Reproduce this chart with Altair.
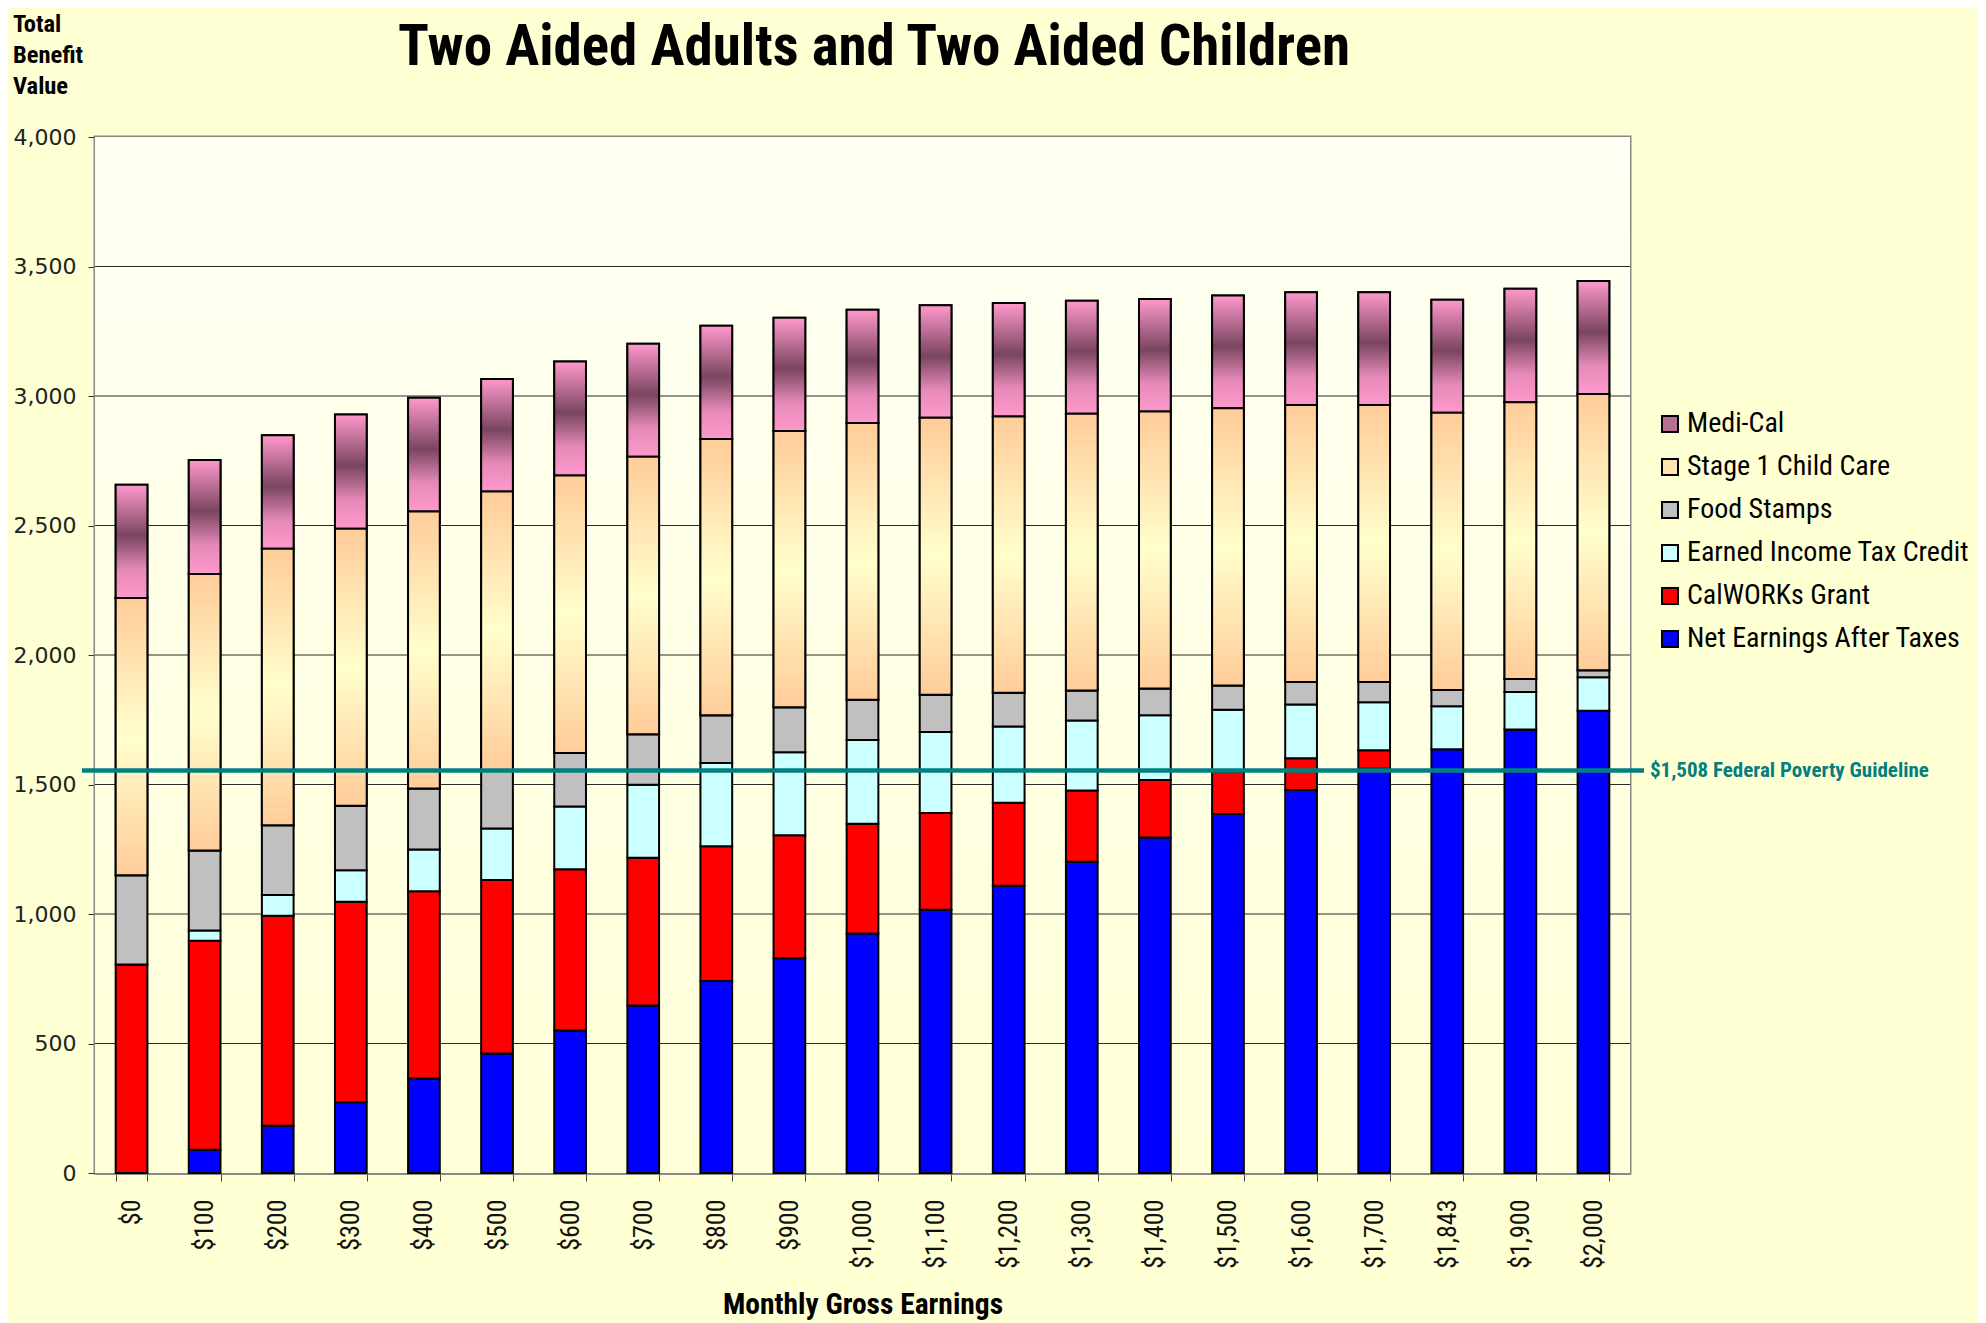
import altair as alt
import pandas as pd

# ---------------- data ----------------
earnings = ["$0", "$100", "$200", "$300", "$400", "$500", "$600", "$700", "$800", "$900",
            "$1,000", "$1,100", "$1,200", "$1,300", "$1,400", "$1,500", "$1,600", "$1,700",
            "$1,843", "$1,900", "$2,000"]
net_earnings = [0, 90, 182, 273, 365, 461, 550, 647, 741, 829, 925, 1016, 1109, 1202, 1295,
                1386, 1479, 1561, 1636, 1712, 1785]
calworks = [805, 807, 811, 774, 723, 670, 623, 570, 521, 475, 423, 374, 321, 275, 222, 164,
            122, 71, 0, 0, 0]
eitc = [0, 39, 80, 122, 161, 199, 242, 282, 321, 321, 324, 313, 294, 270, 250, 239, 208, 186,
        166, 145, 129]
food_stamps = [345, 309, 270, 249, 236, 224, 207, 195, 184, 173, 155, 144, 130, 116, 104, 93,
               87, 78, 63, 50, 27]
child_care = [1070, 1068, 1067, 1069, 1069, 1077, 1071, 1071, 1067, 1067, 1069, 1069, 1067,
              1068, 1069, 1071, 1069, 1069, 1070, 1069, 1067]
medi_cal = [437, 440, 438, 442, 439, 435, 440, 437, 437, 437, 437, 434, 438, 437, 435, 435,
            436, 436, 437, 438, 436]

series_stack = ["Net Earnings After Taxes", "CalWORKs Grant", "Earned Income Tax Credit",
                "Food Stamps", "Stage 1 Child Care", "Medi-Cal"]
series_values = [net_earnings, calworks, eitc, food_stamps, child_care, medi_cal]
legend_order = list(reversed(series_stack))
legend_colors = ["#B86E95", "#FFE3B3", "#C0C0C0", "#CCFFFF", "#FF0000", "#0000FF"]

poverty_value = 1554
poverty_label = "$1,508 Federal Poverty Guideline"
y_ticks = [0, 500, 1000, 1500, 2000, 2500, 3000, 3500, 4000]
grid_values = [500, 1000, 1500, 2000, 2500, 3000, 3500]

title_text = "Two Aided Adults and Two Aided Children"
y_title = ["Total", "Benefit", "Value"]
x_title = "Monthly Gross Earnings"

# ---------------- tables ----------------
rows = []
for order, (name, vals) in enumerate(zip(series_stack, series_values)):
    for e, v in zip(earnings, vals):
        rows.append({"earn": e, "series": name, "value": v, "order": order})
df = pd.DataFrame(rows)
pov_df = pd.DataFrame({"pv": [poverty_value], "label": [poverty_label]})
grid_df = pd.DataFrame({"g": grid_values})

W, H = 1535, 1036
NARROW = "Roboto Condensed, Liberation Sans Narrow, sans-serif"
WIDE = "DejaVu Sans, Verdana, sans-serif"

x_enc = alt.X("earn:N", sort=earnings, title=x_title,
              scale=alt.Scale(paddingInner=0.566, paddingOuter=0.283),
              axis=alt.Axis(labelAngle=-90, labelFont=NARROW, labelFontSize=26,
                            labelColor="#111111", labelPadding=18, tickBand="extent",
                            tickSize=8, tickColor="#444444", tickWidth=1,
                            domainColor="#888888", domainWidth=3,
                            titleFont=NARROW, titleFontSize=29.5, titleFontWeight="bold",
                            titleColor="#000000", titleY=131, titleBaseline="middle"))
y_scale = alt.Scale(domain=[0, 4000], nice=False)
y_axis = alt.Axis(values=y_ticks, format=",d", grid=False, labelFont=WIDE, labelFontSize=22,
                  labelColor="#222222", labelPadding=12, tickSize=7, tickColor="#333333",
                  domainColor="#888888", domainWidth=3, title=None)

# plot-area background
bg = alt.Chart(alt.Data(values=[{}])).mark_rect(
    fill=alt.LinearGradient(gradient="linear", x1=0, x2=0, y1=0, y2=1,
                            stops=[alt.GradientStop(offset=0, color="#FFFFF4"),
                                   alt.GradientStop(offset=1, color="#FFFFD8")])
).encode(x=alt.value(0), x2=alt.value(W), y=alt.value(0), y2=alt.value(H))

grid = alt.Chart(grid_df).mark_rule(color="#2a2a2a", strokeWidth=1).encode(
    y=alt.Y("g:Q", scale=y_scale, axis=y_axis))

base = alt.Chart(df).transform_stack(
    stack="value", groupby=["earn"], as_=["v0", "v1"],
    sort=[alt.SortField("order", order="ascending")])

bars = base.mark_bar(stroke="#000000", strokeWidth=2).encode(
    x=x_enc,
    y=alt.Y("v0:Q", scale=y_scale, axis=y_axis),
    y2="v1:Q",
    color=alt.Color("series:N",
                    scale=alt.Scale(domain=legend_order, range=legend_colors),
                    legend=alt.Legend(orient="none", legendX=1561, legendY=273, title=None,
                                      symbolType="square", symbolSize=256,
                                      symbolStrokeColor="#000000", symbolStrokeWidth=2,
                                      labelFont=NARROW, labelFontSize=28,
                                      labelColor="#000000", labelOffset=3,
                                      rowPadding=15, padding=0, labelLimit=400)),
)

medi_grad = alt.LinearGradient(gradient="linear", x1=0, x2=0, y1=0, y2=1, stops=[
    alt.GradientStop(offset=0, color="#FF99CC"),
    alt.GradientStop(offset=0.45, color="#7A4560"),
    alt.GradientStop(offset=0.75, color="#E58AB8"),
    alt.GradientStop(offset=1, color="#FF99CC")])
cc_grad = alt.LinearGradient(gradient="linear", x1=0, x2=0, y1=0, y2=1, stops=[
    alt.GradientStop(offset=0, color="#FFCC99"),
    alt.GradientStop(offset=0.5, color="#FFFFCC"),
    alt.GradientStop(offset=1, color="#FFCC99")])

medi_layer = base.transform_filter(alt.datum.series == "Medi-Cal").mark_bar(
    fill=medi_grad, stroke="#000000", strokeWidth=2).encode(
    x=alt.X("earn:N", sort=earnings), y=alt.Y("v0:Q", scale=y_scale), y2="v1:Q")
cc_layer = base.transform_filter(alt.datum.series == "Stage 1 Child Care").mark_bar(
    fill=cc_grad, stroke="#000000", strokeWidth=2).encode(
    x=alt.X("earn:N", sort=earnings), y=alt.Y("v0:Q", scale=y_scale), y2="v1:Q")

pov_rule = alt.Chart(pov_df).mark_rule(color="#008080", strokeWidth=4.5).encode(
    y=alt.Y("pv:Q", scale=y_scale), x=alt.value(-13), x2=alt.value(W + 14))
pov_text = alt.Chart(pov_df).mark_text(
    align="left", baseline="middle", font=NARROW, fontSize=21, fontWeight="bold",
    color="#008080").encode(y=alt.Y("pv:Q", scale=y_scale), x=alt.value(W + 20),
                            text="label:N")

title = alt.Chart(alt.Data(values=[{}])).mark_text(
    text=title_text, align="center", baseline="alphabetic", font=NARROW, fontSize=57,
    fontWeight="bold", color="#000000").encode(x=alt.value(779), y=alt.value(-72))
ytitle = alt.Chart(alt.Data(values=[{}])).mark_text(
    text=y_title, align="left", baseline="top", font=NARROW, fontSize=24.5, lineHeight=31,
    fontWeight="bold", color="#000000").encode(x=alt.value(-82), y=alt.value(-124))

chart = alt.layer(bg, grid, bars, medi_layer, cc_layer, pov_rule, pov_text, title, ytitle).properties(
    width=W, height=H,
    autosize=alt.AutoSizeParams(type="none"),
    padding={"left": 87, "top": 129, "right": 348, "bottom": 150},
    background="#FFFFD4",
).configure_view(stroke="#888888", strokeWidth=3)

chart.save("out.html", embed_options={"renderer": "svg", "actions": False})
